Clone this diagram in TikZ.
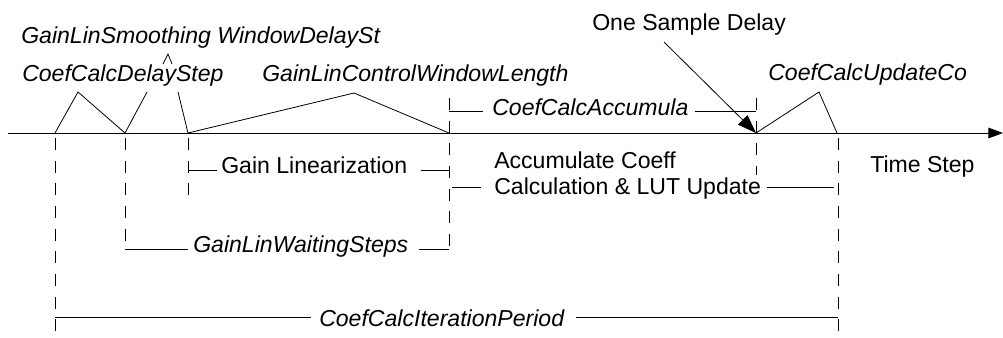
\documentclass[tikz,border=0pt]{standalone}
\usepackage{fontspec}
\setmainfont{Liberation Sans}
\usetikzlibrary{arrows.meta, positioning}

\begin{document}
\begin{tikzpicture}[
    x=0.75pt, y=-0.75pt,
    font=\fontsize{17.3}{20}\selectfont,
    label/.style={inner sep=0pt, anchor=base west},
    param/.style={label, font=\fontsize{17.3}{20}\selectfont\itshape},
    axis/.style={line width=0.7pt, -{Triangle[length=11pt, width=8pt]}},
    leader/.style={line width=0.6pt},
    pointer/.style={line width=0.6pt, -{Triangle[length=14pt, width=10pt]}},
    marker/.style={line width=0.6pt, dash pattern=on 9pt off 8pt},
    bracket/.style={line width=0.6pt}
    ]
    \useasboundingbox (0,0) rectangle (1003,337);

    % Time axis
    \coordinate (start) at (8,133);
    \coordinate (end) at (1003,133);
    \draw[axis] (start) -- (end);

    % Step instants on the axis
    \coordinate (t0) at (55,133);
    \coordinate (t1) at (125,133);
    \coordinate (t2) at (188,133);
    \coordinate (t3) at (449,133);
    \coordinate (t4) at (756,133);
    \coordinate (t5) at (837,133);

    % Dashed markers
    \foreach \name/\x/\ya/\yb in {m0/55/138/337, m1/125/138/249, m2/188/138/205,
                                  m3/449/98/250, m4/756/98/175, m5/838/138/337} {
        \coordinate (\name top) at (\x,\ya);
        \coordinate (\name bot) at (\x,\yb);
        \draw[marker] (\name top) -- (\name bot);
    }

    % Labels
    \node[param] (smooth) at (21,43) {GainLinSmoothing WindowDelaySt};
    \node[param] (delay) at (22,81) {CoefCalcDelayStep};
    \node[param] (window) at (262,81) {GainLinControlWindowLength};
    \node[label] (sample) at (592,30) {One Sample Delay};
    \node[param] (update) at (768,80) {CoefCalcUpdateCo};
    \node[param] (accum) at (492,115) {CoefCalcAccumula};
    \node[label] (gainlin) at (221,173) {Gain Linearization};
    \node[label] (coeff) at (494,168) {Accumulate Coeff};
    \node[label] (lut) at (494,194) {Calculation \& LUT Update};
    \node[label] (time) at (870,172) {Time Step};
    \node[param] (waiting) at (193,252) {GainLinWaitingSteps};
    \node[param] (period) at (319,326) {CoefCalcIterationPeriod};

    % Leader peaks
    \coordinate (d0) at (78,92);
    \coordinate (d1) at (147,92);
    \coordinate (d2) at (178,92);
    \coordinate (w0) at (354,93);
    \coordinate (u0) at (819,92);
    \coordinate (o0) at (664,42);
    \coordinate (c0) at (163,64);
    \coordinate (c1) at (168,54);
    \coordinate (c2) at (172,64);

    % Leaders from labels to the axis
    \draw[leader] (t0) -- (d0) -- (t1) -- (d1);
    \draw[leader] (d2) -- (t2) -- (w0) -- (t3);
    \draw[leader] (t4) -- (u0) -- (t5);
    \draw[leader] (c0) -- (c1) -- (c2);
    \draw[pointer] (o0) -- (t4);

    % Span brackets
    \draw[bracket] (m2top |- 0,170) -- ([xshift=-3pt]gainlin.west |- 0,170);
    \draw[bracket] ([xshift=10pt]gainlin.east |- 0,170) -- (m3top |- 0,170);
    \draw[bracket] (m3top |- 0,111) -- ([xshift=-7pt]accum.west |- 0,111);
    \draw[bracket] ([xshift=4.5pt]accum.east |- 0,111) -- (m4top |- 0,111);
    \draw[bracket] ([xshift=2pt]m3top |- 0,187) -- ([xshift=-10pt]lut.west |- 0,187);
    \draw[bracket] ([xshift=4pt]lut.east |- 0,187) -- ([xshift=-3pt]m5top |- 0,187);
    \draw[bracket] (m1top |- 0,249) -- ([xshift=-4pt]waiting.west |- 0,249);
    \draw[bracket] ([xshift=7.5pt]waiting.east |- 0,249) -- (m3top |- 0,249);
    \draw[bracket] (m0top |- 0,317) -- ([xshift=-6pt]period.west |- 0,317);
    \draw[bracket] ([xshift=9pt]period.east |- 0,317) -- (m5top |- 0,317);
\end{tikzpicture}
\end{document}
